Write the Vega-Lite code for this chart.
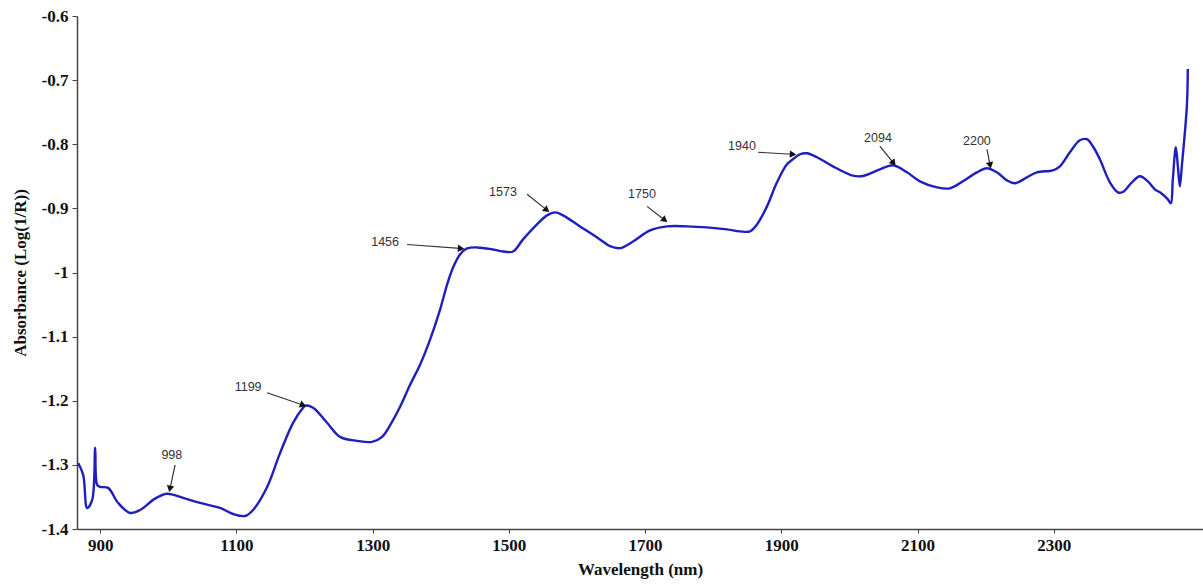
{
  "$schema": "https://vega.github.io/schema/vega-lite/v6.json",
  "width": 1126,
  "height": 513,
  "autosize": {"type": "none"},
  "padding": {"left": 77, "top": 16, "right": 0, "bottom": 55},
  "background": "white",
  "config": {"view": {"stroke": null}},
  "datasets": {
    "spectrum": [
      {"wl": 867.7, "abs": -1.297},
      {"wl": 875.1, "abs": -1.3156},
      {"wl": 880.9, "abs": -1.3672},
      {"wl": 888.3, "abs": -1.3547},
      {"wl": 892.7, "abs": -1.2734},
      {"wl": 895.6, "abs": -1.3313},
      {"wl": 900.0, "abs": -1.3344},
      {"wl": 911.7, "abs": -1.3359},
      {"wl": 926.4, "abs": -1.3594},
      {"wl": 944.0, "abs": -1.375},
      {"wl": 958.7, "abs": -1.3703},
      {"wl": 980.0, "abs": -1.3530},
      {"wl": 998.0, "abs": -1.3450},
      {"wl": 1021.8, "abs": -1.3516},
      {"wl": 1046.8, "abs": -1.3594},
      {"wl": 1076.1, "abs": -1.3672},
      {"wl": 1095.2, "abs": -1.3766},
      {"wl": 1112.8, "abs": -1.3797},
      {"wl": 1124.5, "abs": -1.3703},
      {"wl": 1145.1, "abs": -1.3344},
      {"wl": 1164.2, "abs": -1.2813},
      {"wl": 1183.2, "abs": -1.2344},
      {"wl": 1197.9, "abs": -1.2109},
      {"wl": 1200.9, "abs": -1.2078},
      {"wl": 1212.6, "abs": -1.2109},
      {"wl": 1233.1, "abs": -1.2344},
      {"wl": 1252.2, "abs": -1.2563},
      {"wl": 1277.2, "abs": -1.2625},
      {"wl": 1299.2, "abs": -1.2641},
      {"wl": 1313.9, "abs": -1.2563},
      {"wl": 1328.5, "abs": -1.2328},
      {"wl": 1340.3, "abs": -1.2094},
      {"wl": 1355.0, "abs": -1.175},
      {"wl": 1369.6, "abs": -1.1438},
      {"wl": 1384.3, "abs": -1.1047},
      {"wl": 1399.0, "abs": -1.0578},
      {"wl": 1409.3, "abs": -1.0188},
      {"wl": 1418.1, "abs": -0.9922},
      {"wl": 1428.3, "abs": -0.9719},
      {"wl": 1438.6, "abs": -0.9625},
      {"wl": 1453.3, "abs": -0.9609},
      {"wl": 1476.8, "abs": -0.9641},
      {"wl": 1491.4, "abs": -0.9672},
      {"wl": 1506.1, "abs": -0.9672},
      {"wl": 1520.8, "abs": -0.9484},
      {"wl": 1541.3, "abs": -0.925},
      {"wl": 1556.0, "abs": -0.9109},
      {"wl": 1568.0, "abs": -0.9063},
      {"wl": 1579.5, "abs": -0.9109},
      {"wl": 1604.4, "abs": -0.9281},
      {"wl": 1633.8, "abs": -0.9484},
      {"wl": 1648.5, "abs": -0.9590},
      {"wl": 1663.2, "abs": -0.9620},
      {"wl": 1682.2, "abs": -0.9516},
      {"wl": 1707.2, "abs": -0.9344},
      {"wl": 1732.1, "abs": -0.9281},
      {"wl": 1761.5, "abs": -0.9281},
      {"wl": 1790.8, "abs": -0.9297},
      {"wl": 1820.2, "abs": -0.9328},
      {"wl": 1839.3, "abs": -0.9359},
      {"wl": 1853.9, "abs": -0.9359},
      {"wl": 1864.2, "abs": -0.925},
      {"wl": 1878.9, "abs": -0.8969},
      {"wl": 1893.6, "abs": -0.8594},
      {"wl": 1908.2, "abs": -0.8313},
      {"wl": 1917.0, "abs": -0.8234},
      {"wl": 1927.3, "abs": -0.8156},
      {"wl": 1937.6, "abs": -0.8141},
      {"wl": 1952.3, "abs": -0.8203},
      {"wl": 1975.7, "abs": -0.8344},
      {"wl": 2005.1, "abs": -0.8490},
      {"wl": 2019.8, "abs": -0.8495},
      {"wl": 2044.7, "abs": -0.8391},
      {"wl": 2063.8, "abs": -0.8328},
      {"wl": 2084.4, "abs": -0.8438},
      {"wl": 2103.4, "abs": -0.8578},
      {"wl": 2128.4, "abs": -0.8672},
      {"wl": 2147.5, "abs": -0.8688},
      {"wl": 2166.6, "abs": -0.8578},
      {"wl": 2187.1, "abs": -0.8438},
      {"wl": 2201.8, "abs": -0.8375},
      {"wl": 2216.4, "abs": -0.8438},
      {"wl": 2231.1, "abs": -0.8563},
      {"wl": 2242.9, "abs": -0.8609},
      {"wl": 2260.5, "abs": -0.8516},
      {"wl": 2275.1, "abs": -0.8438},
      {"wl": 2298.6, "abs": -0.8406},
      {"wl": 2308.9, "abs": -0.8344},
      {"wl": 2323.6, "abs": -0.8125},
      {"wl": 2338.2, "abs": -0.7938},
      {"wl": 2348.5, "abs": -0.7922},
      {"wl": 2357.3, "abs": -0.8031},
      {"wl": 2367.6, "abs": -0.8234},
      {"wl": 2382.3, "abs": -0.8594},
      {"wl": 2394.0, "abs": -0.8750},
      {"wl": 2401.3, "abs": -0.8745},
      {"wl": 2414.6, "abs": -0.8594},
      {"wl": 2426.3, "abs": -0.8500},
      {"wl": 2438.0, "abs": -0.8578},
      {"wl": 2448.3, "abs": -0.8703},
      {"wl": 2455.7, "abs": -0.8750},
      {"wl": 2467.4, "abs": -0.8859},
      {"wl": 2471.8, "abs": -0.8922},
      {"wl": 2474.7, "abs": -0.8547},
      {"wl": 2479.1, "abs": -0.8047},
      {"wl": 2482.1, "abs": -0.8344},
      {"wl": 2485.0, "abs": -0.8656},
      {"wl": 2487.9, "abs": -0.8344},
      {"wl": 2495.3, "abs": -0.7406},
      {"wl": 2496.7, "abs": -0.6828}
    ],
    "peaks": [
      {"label": "998", "textX": 1005.2, "textY": -1.2844, "fromX": 1010.1, "fromY": -1.300, "tipX": 1002.7, "tipY": -1.3359},
      {"label": "1199", "textX": 1117.2, "textY": -1.1781, "fromX": 1145.1, "fromY": -1.1875, "tipX": 1196.5, "tipY": -1.2063},
      {"label": "1456", "textX": 1318.3, "textY": -0.9531, "fromX": 1350.6, "fromY": -0.9563, "tipX": 1428.3, "tipY": -0.9625},
      {"label": "1573", "textX": 1491.4, "textY": -0.8750, "fromX": 1526.7, "fromY": -0.8781, "tipX": 1554.5, "tipY": -0.9016},
      {"label": "1750", "textX": 1695.4, "textY": -0.8781, "fromX": 1702.8, "fromY": -0.8969, "tipX": 1727.7, "tipY": -0.9172},
      {"label": "1940", "textX": 1842.2, "textY": -0.8031, "fromX": 1865.7, "fromY": -0.8125, "tipX": 1915.6, "tipY": -0.8156},
      {"label": "2094", "textX": 2041.8, "textY": -0.7906, "fromX": 2044.7, "fromY": -0.8031, "tipX": 2063.8, "tipY": -0.8281},
      {"label": "2200", "textX": 2187.1, "textY": -0.7953, "fromX": 2201.8, "fromY": -0.8078, "tipX": 2206.2, "tipY": -0.8313}
    ]
  },
  "layer": [
    {
      "data": {"name": "spectrum"},
      "mark": {"type": "line", "color": "#1f1fc0", "strokeWidth": 2.4, "interpolate": "catmull-rom"},
      "encoding": {
        "x": {
          "field": "wl",
          "type": "quantitative",
          "scale": {"domain": [866, 2519], "nice": false, "zero": false},
          "axis": {
            "title": "Wavelength (nm)",
            "values": [900, 1100, 1300, 1500, 1700, 1900, 2100, 2300],
            "grid": false,
            "format": "d",
            "domainColor": "#444",
            "domainWidth": 1.5,
            "tickColor": "#444",
            "tickSize": 4,
            "labelFont": "Liberation Serif",
            "labelFontSize": 17,
            "labelFontWeight": "bold",
            "labelColor": "#111",
            "labelPadding": 4,
            "titleFont": "Liberation Serif",
            "titleFontSize": 17,
            "titleFontWeight": "bold",
            "titleColor": "#111",
            "titlePadding": 8
          }
        },
        "y": {
          "field": "abs",
          "type": "quantitative",
          "scale": {"domain": [-1.4, -0.6], "nice": false, "zero": false},
          "axis": {
            "title": "Absorbance (Log(1/R))",
            "values": [-1.4, -1.35, -1.3, -1.25, -1.2, -1.15, -1.1, -1.05, -1, -0.95, -0.9, -0.85, -0.8, -0.75, -0.7, -0.65, -0.6],
            "labelExpr": "abs(round(datum.value * 20)) % 2 == 0 ? '' + datum.value : ''",
            "grid": false,
            "domainColor": "#444",
            "domainWidth": 1.5,
            "tickColor": "#444",
            "tickSize": 5,
            "labelFont": "Liberation Serif",
            "labelFontSize": 17,
            "labelFontWeight": "bold",
            "labelColor": "#111",
            "labelPadding": 4,
            "titleFont": "Liberation Serif",
            "titleFontSize": 17,
            "titleFontWeight": "bold",
            "titleColor": "#111",
            "titlePadding": 12
          }
        }
      }
    },
    {
      "data": {"name": "peaks"},
      "mark": {"type": "rule", "color": "#333", "strokeWidth": 1.2},
      "encoding": {
        "x": {"field": "fromX", "type": "quantitative"},
        "y": {"field": "fromY", "type": "quantitative"},
        "x2": {"field": "tipX"},
        "y2": {"field": "tipY"}
      }
    },
    {
      "data": {"name": "peaks"},
      "transform": [
        {"calculate": "atan2((datum.tipX - datum.fromX) * 0.6812, (datum.tipY - datum.fromY) * 641) * 180 / PI", "as": "heading"}
      ],
      "mark": {"type": "point", "shape": "triangle", "filled": true, "color": "#111", "size": 55, "opacity": 1},
      "encoding": {
        "x": {"field": "tipX", "type": "quantitative"},
        "y": {"field": "tipY", "type": "quantitative"},
        "angle": {"field": "heading", "type": "quantitative", "scale": null}
      }
    },
    {
      "data": {"name": "peaks"},
      "mark": {"type": "text", "font": "Liberation Sans", "fontSize": 12.5, "color": "#333", "align": "center", "baseline": "middle"},
      "encoding": {
        "x": {"field": "textX", "type": "quantitative"},
        "y": {"field": "textY", "type": "quantitative"},
        "text": {"field": "label"}
      }
    }
  ]
}
